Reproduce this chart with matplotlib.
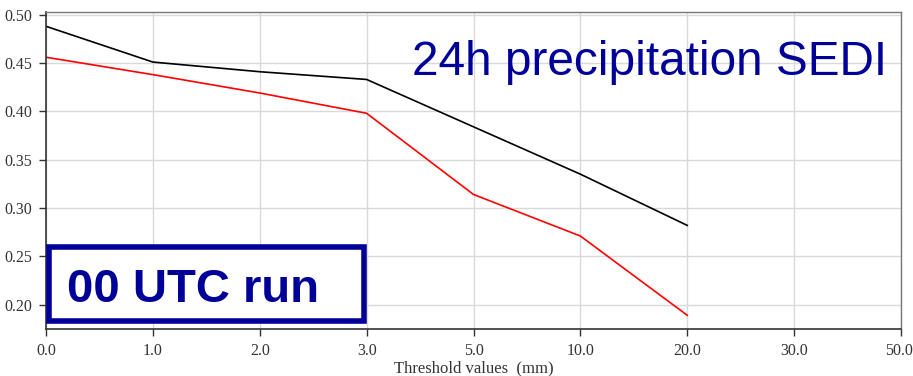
import matplotlib
matplotlib.use('Agg')
import matplotlib.pyplot as plt
from matplotlib.patches import Rectangle
from matplotlib.transforms import ScaledTranslation

# threshold categories (mm)
thresholds = ['0.0', '1.0', '2.0', '3.0', '5.0', '10.0', '20.0', '30.0', '50.0']
# SEDI scores (only first 7 thresholds have values)
sedi_black = [0.488, 0.451, 0.441, 0.433, 0.384, 0.335, 0.282]
sedi_red = [0.456, 0.438, 0.419, 0.398, 0.314, 0.271, 0.189]

title = '24h precipitation SEDI'
run_label = '00 UTC run'
blue = '#000099'

fig = plt.figure(figsize=(9.13, 3.76), dpi=100)
ax = fig.add_axes([46 / 913, 1 - 329 / 376, 855 / 913, 317 / 376])

ax.plot(range(len(sedi_black)), sedi_black, color='black', lw=1.2)
ax.plot(range(len(sedi_red)), sedi_red, color='red', lw=1.2)

ax.set_xlim(0, len(thresholds) - 1)
ax.set_ylim(0.1748, 0.5028)
ax.set_xticks(range(len(thresholds)))
ax.set_xticklabels(thresholds)
ax.set_yticks([0.20, 0.25, 0.30, 0.35, 0.40, 0.45, 0.50])
ax.yaxis.set_major_formatter(matplotlib.ticker.FormatStrFormatter('%.2f'))

ax.grid(True, color='#d9d9d9', lw=1)
ax.set_axisbelow(True)
for side in ['left', 'bottom']:
    ax.spines[side].set_color('#333333')
    ax.spines[side].set_linewidth(1.2)
for side in ['top', 'right']:
    ax.spines[side].set_color('#777777')
    ax.spines[side].set_linewidth(1.0)
ax.tick_params(length=5, width=1, color='#333333', labelsize=11.5, pad=5,
               labelcolor='#333333')
for lab in ax.get_xticklabels() + ax.get_yticklabels():
    lab.set_family('Liberation Serif')
# keep the last x label inside the figure
last = ax.get_xticklabels()[-1]
last.set_transform(last.get_transform() + ScaledTranslation(-2 / 100, 0, fig.dpi_scale_trans))
ax.set_xlabel('Threshold values  (mm)', family='Liberation Serif', fontsize=12,
              color='#333333', labelpad=1)

ax.text(0.9836, 0.801, title, transform=ax.transAxes, ha='right',
        va='baseline', color=blue, fontsize=34.4, family='Liberation Sans')

ax.add_patch(Rectangle((0.003, 0.0268), 0.3695, 0.233, transform=ax.transAxes,
                       fill=True, facecolor='white', edgecolor=blue, lw=4,
                       clip_on=False, zorder=5))
ax.text(0.0246, 0.085, run_label, transform=ax.transAxes, ha='left',
        va='baseline', color=blue, fontsize=34, fontweight='bold',
        family='Liberation Sans', zorder=6)

fig.savefig('out.png', dpi=100)
